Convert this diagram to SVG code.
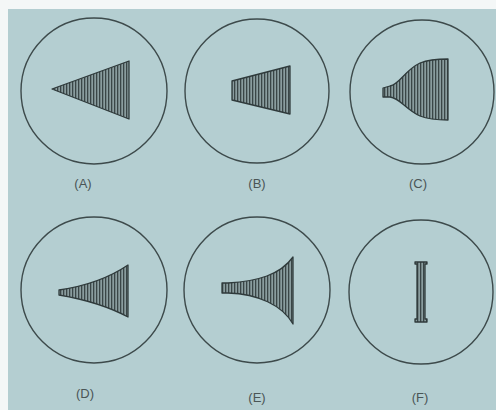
<svg xmlns="http://www.w3.org/2000/svg" width="496" height="410" viewBox="0 0 496 410">
<defs>
<pattern id="hatch" width="3" height="10" patternUnits="userSpaceOnUse">
<rect width="3" height="10" fill="#8a9d9f"/>
<rect x="0" width="1.3" height="10" fill="#3a4647"/>
</pattern>
<style>
.ring{fill:none;stroke:#3d4a4b;stroke-width:1.4}
.shape{fill:url(#hatch);stroke:#2f3a3b;stroke-width:1.3;stroke-linejoin:round}
.lbl{font-family:"Liberation Sans","DejaVu Sans",sans-serif;font-size:13px;fill:#4a5556;text-anchor:middle}
</style>
</defs>
<rect width="496" height="410" fill="#b4ced1"/>
<rect width="496" height="9" fill="#f4f7f7"/>
<rect width="8" height="410" fill="#f4f7f7"/>
<g id="A">
<circle class="ring" cx="94" cy="91" r="73"/>
<path class="shape" d="M52,89 L129,61 L129,119 Z"/>
<text class="lbl" x="83" y="188">(A)</text>
</g>
<g id="B">
<circle class="ring" cx="257" cy="91" r="72"/>
<path class="shape" d="M232,81 L290,66 L290,114 L232,100 Z"/>
<text class="lbl" x="257" y="188">(B)</text>
</g>
<g id="C">
<circle class="ring" cx="422" cy="92" r="72"/>
<path class="shape" d="M383,88 L390,86 C400,84 405,70 420,63 C430,59 440,59 448,59 L448,120 C440,120 430,120 420,116 C405,109 400,98 390,97 L383,97 Z"/>
<text class="lbl" x="418" y="188">(C)</text>
</g>
<g id="D">
<circle class="ring" cx="94" cy="290" r="73"/>
<path class="shape" d="M59,290 Q100,284 128,265 L128,317 Q100,302 59,295 Z"/>
<text class="lbl" x="85" y="398">(D)</text>
</g>
<g id="E">
<circle class="ring" cx="257" cy="290" r="73"/>
<path class="shape" d="M222,283 L228,283 C258,281 280,275 293,257 L293,324 C282,305 258,294 228,293 L222,293 Z"/>
<text class="lbl" x="257" y="402">(E)</text>
</g>
<g id="F">
<circle class="ring" cx="421" cy="292" r="72"/>
<path class="shape" d="M415,262 L427,262 L427,264 L425,264 L425,319 L427,319 L427,322 L415,322 L415,319 L417,319 L417,264 L415,264 Z"/>
<text class="lbl" x="420" y="402">(F)</text>
</g>
<g id="connectors"/>
</svg>
